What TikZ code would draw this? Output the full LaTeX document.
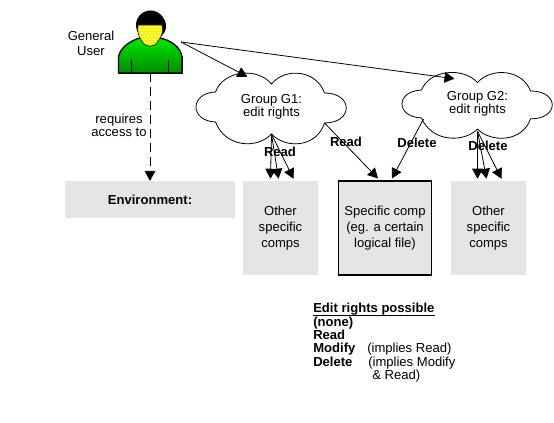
\documentclass[tikz,border=0pt]{standalone}
\usepackage{fontspec}
\setmainfont{Liberation Sans}
\usetikzlibrary{positioning,calc,arrows.meta}
\definecolor{boxgrey}{RGB}{229,229,229}
\tikzset{
  compbox/.style={fill=boxgrey,align=center,inner sep=0pt,minimum width=56.5pt,minimum height=70.5pt,font=\fontsize{9.8}{12}\selectfont},
  groupcloud/.style={inner sep=0pt,minimum width=114pt,minimum height=40.5pt,align=center,font=\fontsize{9.8}{9.8}\selectfont},
  rightlabel/.style={font=\fontsize{9.8}{11}\selectfont\bfseries,inner sep=0pt},
  plainlabel/.style={font=\fontsize{9.8}{11.2}\selectfont,align=center,inner sep=0pt},
  rightsline/.style={font=\fontsize{9.8}{11}\selectfont,anchor=base west,inner sep=0pt},
  tip/.style={-{Triangle[length=7.5pt,width=8pt]},line width=0.6pt},
}
\newcommand{\groupoutline}[2]{%
  \draw[line width=0.6pt,shift={(#1.center)},yscale=#2]
    (-56,15) .. controls (-82,14) and (-82,-14) .. (-56,-15)
    .. controls (-48,-37) and (-14,-40) .. (0,-23)
    .. controls (14,-40) and (45,-37) .. (53,-14)
    .. controls (82,-14) and (82,16) .. (53,16)
    .. controls (45,41) and (14,42) .. (0,27)
    .. controls (-14,42) and (-46,41) .. (-56,15) -- cycle;}
\begin{document}
\begin{tikzpicture}[x=0.75pt,y=-0.75pt,font=\fontsize{9.8}{12}\selectfont]
\useasboundingbox (0,0) rectangle (554,423);

% person
\fill[black] (150.5,25) circle (14.5);
\fill[black] (152,26) circle (14);
\shade[draw=black,line width=1pt,top color=green!90!black,bottom color=green!55!black]
  (118.5,73) -- (118.5,57) .. controls (120,47) and (132,40) .. (140,38)
  -- (160,38) .. controls (170,40) and (181,47) .. (182,57) -- (182,73) -- cycle;
\draw[black,line width=1.3pt] (119,73.5) -- (182.5,73.5) -- (182.5,56);
\draw (131,60) -- (131,73) (168,60) -- (168,73);
\path[draw=black,fill=yellow] (138,25) -- (162,25) .. controls (164,33) and (161,37) .. (158,41)
  .. controls (155,48) and (145,48) .. (142,41) .. controls (139,37) and (137,33) .. (138,25) -- cycle;
\begin{scope}
\clip (139,26) -- (161,26) .. controls (162,33) and (160,37) .. (157,41)
  .. controls (155,46) and (145,46) .. (143,41) .. controls (140,37) and (138,33) .. (139,26) -- cycle;
\foreach \dotrow in {0,...,6}
  \foreach \dotcol in {0,...,6}
    \fill[white] ({138+\dotcol*4+mod(\dotrow,2)*2},{27+\dotrow*3}) circle (0.9);
\end{scope}
\coordinate (user-side) at (181,42);
\coordinate (user-foot) at (150,73);
\node[plainlabel] (user-label) at (91,43) {General\\User};

% boxes
\node[fill=boxgrey,inner sep=0pt,minimum width=127.5pt,minimum height=27.5pt] (env) at (150,199.5) {\textbf{Environment:}};
\node[compbox] (others-g1) at (280.5,228) {Other\\specific\\comps};
\node[compbox,draw,line width=0.8pt,minimum width=70pt] (spec) at (385,228) {Specific comp\\(eg. a certain\\logical file)};
\node[compbox] (others-g2) at (488.5,228) {Other\\specific\\comps};

% clouds
\node[groupcloud] (g1) at (271.5,107) {Group G1:\\edit rights};
\node[groupcloud] (g2) at (477.5,104) {Group G2:\\edit rights};
\groupoutline{g1}{1}
\groupoutline{g2}{0.93}

% arrows
\draw[tip] (user-side) -- ($(g1.north)+(-24,-3)$);
\draw[tip] (user-side) -- ($(g2.north)+(-23,2)$);
\draw[tip,dash pattern=on 6.75pt off 3.75pt] (user-foot) -- (user-foot |- env.north);
\node[plainlabel,font=\fontsize{9.8}{9.8}\selectfont] (access) at (119,125.5) {requires\\access to};

\draw[tip] (g1.south) -- ($(others-g1.north)+(-10,-2)$);
\draw[tip] (g1.south) -- ($(others-g1.north)+(-2,-2)$);
\draw[tip] (g1.south) -- ($(others-g1.north)+(13,-2)$);
\draw[tip] (g2.south) -- ($(others-g2.north)+(-11,-2)$);
\draw[tip] (g2.south) -- ($(others-g2.north)+(-2,-2)$);
\draw[tip] (g2.south) -- ($(others-g2.north)+(13,-2)$);
\draw[tip] ($(g1.center)+(53,16)$) -- ($(spec.north)+(-7,-2)$);
\draw[tip] ($(g2.center)+(-54,15)$) -- ($(spec.north)+(7,-2)$);

\node[rightlabel] (read-others) at (280,152) {Read};
\node[rightlabel] (read-spec) at (346,142) {Read};
\node[rightlabel] (delete-spec) at (417,143) {Delete};
\node[rightlabel] (delete-others) at (488,146) {Delete};

% list of rights
\node[rightsline] (rights-head) at (313,313) {\textbf{\underline{\smash{Edit rights possible}}}};
\node[rightsline] (rights-none) at (313,326.5) {\textbf{(none)}};
\node[rightsline] (rights-read) at (313,340) {\textbf{Read}};
\node[rightsline] (rights-modify) at (313,353) {\textbf{Modify}};
\node[rightsline] (rights-delete) at (313,366.5) {\textbf{Delete}};
\node[rightsline] (note-modify) at (367,353) {(implies Read)};
\node[rightsline] (note-delete) at (368,366.5) {(implies Modify};
\node[rightsline] (note-and) at (372,380) {\& Read)};
\end{tikzpicture}
\end{document}
